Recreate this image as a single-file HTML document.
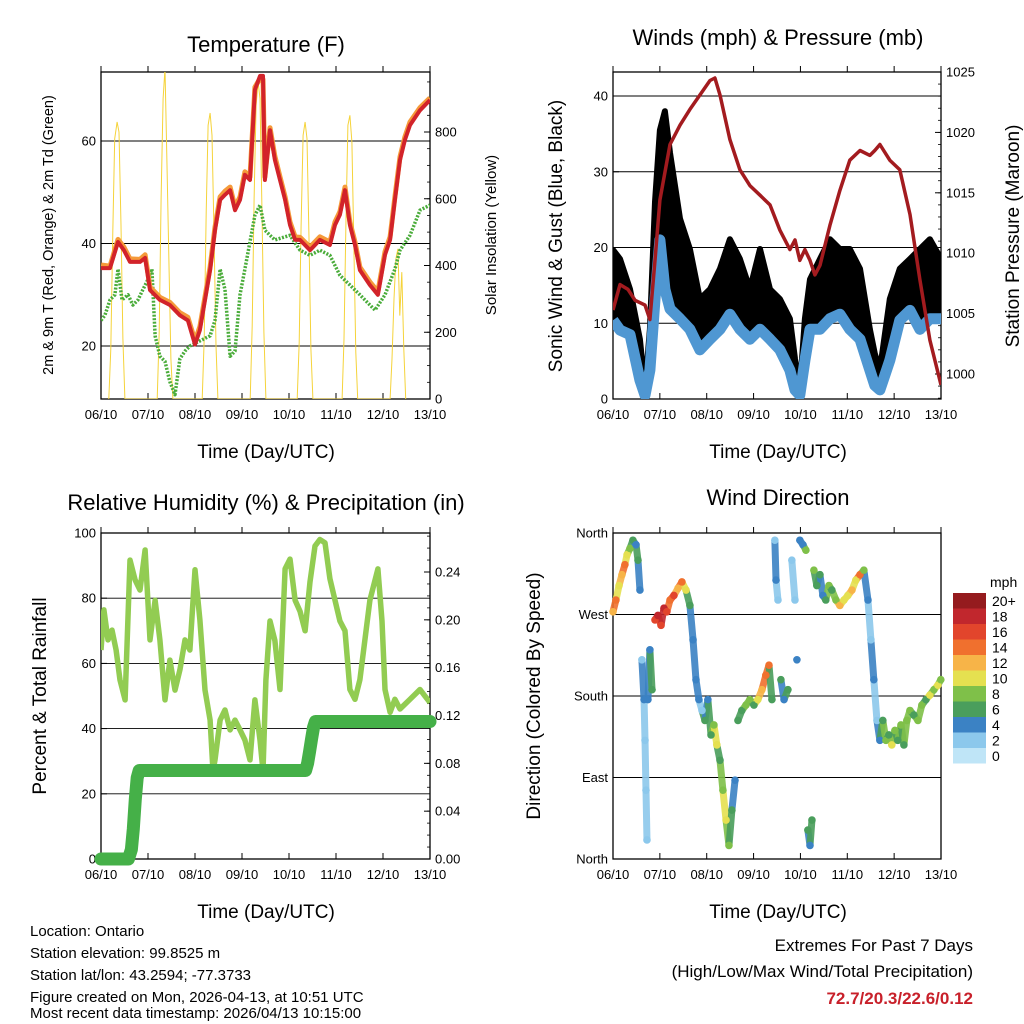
<!DOCTYPE html>
<html><head><meta charset="utf-8">
<style>
html,body{margin:0;padding:0;background:#fff;}
svg{display:block;font-family:"Liberation Sans",sans-serif;}
</style></head>
<body>
<svg id="c" width="1024" height="1024" viewBox="0 0 1024 1024">
<text x="266" y="52" font-size="22" text-anchor="middle">Temperature (F)</text>
<text x="778" y="45" font-size="22" text-anchor="middle">Winds (mph) &amp; Pressure (mb)</text>
<text x="266" y="510" font-size="22" text-anchor="middle">Relative Humidity (%) &amp; Precipitation (in)</text>
<text x="778" y="505" font-size="22" text-anchor="middle">Wind Direction</text>
<text x="266" y="458" font-size="19" text-anchor="middle">Time (Day/UTC)</text>
<text x="778" y="458" font-size="19" text-anchor="middle">Time (Day/UTC)</text>
<text x="266" y="918" font-size="19" text-anchor="middle">Time (Day/UTC)</text>
<text x="778" y="918" font-size="19" text-anchor="middle">Time (Day/UTC)</text>
<text transform="translate(53,235) rotate(-90)" font-size="14.5" text-anchor="middle">2m &amp; 9m T (Red, Orange) &amp; 2m Td (Green)</text>
<text transform="translate(496,235) rotate(-90)" font-size="15" text-anchor="middle">Solar Insolation (Yellow)</text>
<text transform="translate(562,236) rotate(-90)" font-size="19" text-anchor="middle">Sonic Wind &amp; Gust (Blue, Black)</text>
<text transform="translate(1019,236) rotate(-90)" font-size="19" text-anchor="middle">Station Pressure (Maroon)</text>
<text transform="translate(46,696) rotate(-90)" font-size="19" text-anchor="middle">Percent &amp; Total Rainfall</text>
<text transform="translate(540,696) rotate(-90)" font-size="19" text-anchor="middle">Direction (Colored By Speed)</text>
<g font-size="15">
<text x="30" y="936">Location: Ontario</text>
<text x="30" y="958">Station elevation: 99.8525 m</text>
<text x="30" y="980">Station lat/lon: 43.2594; -77.3733</text>
<text x="30" y="1002">Figure created on Mon, 2026-04-13, at 10:51 UTC</text>
<text x="30" y="1024" dy="-6">Most recent data timestamp: 2026/04/13 10:15:00</text>
</g>
<g font-size="17" text-anchor="end">
<text x="973" y="951">Extremes For Past 7 Days</text>
<text x="973" y="977">(High/Low/Max Wind/Total Precipitation)</text>
<text x="973" y="1004" fill="#c8202a" font-weight="bold">72.7/20.3/22.6/0.12</text>
</g>
</svg>
<script>
// ---------- data ----------
const dayLabels = ["06/10","07/10","08/10","09/10","10/10","11/10","12/10","13/10"];
const tempHours = [0,4.6,8.7,11.7,14.8,19.9,22.5,25,30.1,35.2,40.3,44.4,48,50.5,53.1,55.7,58.2,60.8,63.3,65.9,68.4,71,73.5,76.1,78.6,81.2,82.7,83.7,86.3,88.8,91.4,94,96.5,99.1,101.6,106.7,111.8,116.9,119.5,122,124.6,127.1,129.7,132.2,137.3,141.4,145,147.6,150.1,152.7,155.2,157.8,162.9,168];
const temp2m = [35.2,35.2,40.3,38.7,36.4,36.4,37.2,30.9,29,28,26,25,20.3,23.1,29,34.8,42.6,48.5,49.5,50.4,46.5,48.5,53.4,52.4,70,72.7,72.7,52.4,62.1,56.3,52.4,48.5,43.6,40.7,40.7,38.7,40.7,39.7,43.6,45.6,50.4,43.6,39.7,34.8,31.9,30,37.8,40.7,48.5,56.3,60.2,63.1,66,68];
const temp9m = [35.8,35.6,40.8,39.3,37,36.9,37.8,31.5,29.5,28.5,26.5,25.6,21,23.8,29.6,35.4,43.2,49.1,50.2,51,47.1,49.1,54,53,70.5,72.2,72,53,62.6,57,53,49.1,44.2,41.3,41.2,39.3,41.3,40.3,44.2,46.2,51,44.2,40.3,35.4,32.5,30.6,38.4,41.3,49.1,56.9,60.8,63.7,66.5,68.4];
const dewHours = [0,2,4.6,7.1,8.7,10.7,13.8,16.3,18.9,21.4,24,26,27.6,30.1,32.7,35.2,37.8,40.3,42.9,45.4,50.5,55.7,58.2,60.8,63.3,65.9,68.4,71,73.5,78.6,81.2,83.7,86.3,88.8,96.5,101.6,106.7,111.8,116.9,122,127.1,132.2,137.3,139.9,145,150.1,152.7,157.8,162.9,168];
const dewPoint = [25,26,29,30,35,29,30,28,29,31,33,35,22,18,17,13,10.5,17.5,19,20,21,22,25,35,31,18,19,30,35,45.5,47.5,42.6,41.6,40.7,41.6,38.7,37.7,38.7,37.7,33.8,31.9,30,28,27,30,35,38.7,41.6,46.5,47.5];
const solarHours = [4,5,6,7,8.2,9.2,10.2,11.2,12.2, 28.7,29.7,30.7,31.7,32.7,33.7,34.7,35.7,36.7, 51.7,52.7,53.7,54.7,55.7,56.7,57.7,58.7,59.7, 76.2,77.2,78.2,79.2,80.2,81.2,82.2,83.2,84.2, 100.2,101.2,102.2,103.2,104.2,105.2,106.2,107.2,108.2, 123.1,124.1,125.1,126.1,127.1,128.1,129.1,130.1,131.1, 147.6,148.6,149.6,150.6,151.6,152.6,153.6,154.6,155.6];
const solarVals = [0,150,500,780,830,800,520,180,0, 0,200,600,900,990,700,400,120,0, 0,180,560,820,857,790,500,160,0, 0,220,600,880,950,900,560,200,0, 0,170,520,790,830,780,480,150,0, 0,180,540,820,850,770,470,140,0, 0,120,300,420,450,250,380,150,0];
const windHours = [0,3.6,8.7,13.8,16.4,18.9,21.5,24,26.6,29.2,34.3,39.4,44.5,49.7,54.8,59.9,65,70.1,75.3,80.4,85.5,90.6,93.2,95.7,98.3,100.9,106,111.1,116.2,121.3,126.5,131.6,134.1,136.7,141.8,146.9,152.1,157.2,162.3,168];
const windSpeed = [10.4,9.1,8.5,2.5,0.5,3.8,13.2,21,14.5,11.9,10.6,9.2,6.5,7.9,9.2,11.2,9.2,7.9,9.2,7.9,6.5,3.8,1.2,0.5,5.1,9.2,9.2,10.6,11.2,9.2,7.9,3.8,1.8,1.2,5.1,10.4,11.7,9.2,10.6,10.6];
const windGust = [19.7,18.5,14.5,7.9,1.2,9.2,26,35.5,38,32.5,23.8,19.8,13.2,14.5,17.2,21.1,18.5,14.5,19.8,14.5,13.2,10.6,5.3,1.2,10.6,15.8,18.5,21.1,19.8,19.8,17.2,9.2,6,3.8,13.2,17.2,18.5,19.8,21.1,18.5];
const presHours = [0,3.6,7.7,11.3,16.4,18.9,21.5,24,29.2,34.3,39.4,44.5,49.7,52.2,54.8,59.9,65,70.1,75.3,80.4,85.5,90.6,93.2,95.7,98.3,100.9,103.4,106,111.1,116.2,121.3,126.5,131.6,134.1,136.7,141.8,146.9,152.1,157.2,162.3,168];
const pressure = [1005.3,1007.4,1007,1006.1,1005.7,1004.5,1009.4,1014.4,1019,1020.6,1021.9,1023.1,1024.3,1024.5,1023.1,1019.4,1016.9,1015.6,1014.8,1014,1011.9,1010.3,1011.1,1009.4,1010.3,1009.4,1008.2,1009,1012.3,1015.2,1017.7,1018.5,1018.1,1018.5,1019,1017.7,1016.9,1013.2,1007.8,1002.8,999.1];
const rhHours = [0,1.5,3.6,5.6,7.7,9.7,12.3,14.8,17.4,19.9,22.5,25,27.6,30.1,32.7,35.2,37.8,40.3,42.9,45.4,48,50.5,53.1,55.7,57.2,58.2,60.8,63.3,65.9,68.4,71,73.5,76.1,78.6,81.2,82.7,84.2,86.3,88.8,91.4,94,96.5,99.1,101.6,104.2,106.7,109.3,111.8,114.4,116.9,122,124.6,127.1,129.7,132.2,137.3,141.4,143.5,145,147.6,150.1,152.7,157.8,162.9,165.4,168];
const rhVals = [64.1,76.4,67.2,70.2,64.1,54.9,48.8,91.7,85.6,82.5,94.8,67.2,79.4,67.2,48.8,61,51.8,58,67.2,64.1,88.7,73.3,51.8,42.6,27,30.4,42.6,45.7,39.6,42.6,39.6,36.5,30.4,48.8,36.5,27,54.9,73,67,52,89,92,79.4,76,70,85,96,98,97,86,73,70,52,49,55,79.4,89,73,52,45,49,46,49,52,50,48];
const rainHours = [0,14,15.5,16.5,17.5,18.5,19.5,104.5,105.5,106.5,107.5,108.5,109.5,168];
const rainVals = [0,0,0.008,0.025,0.05,0.068,0.074,0.074,0.08,0.09,0.1,0.11,0.115,0.115];
const dirHours = [0,1.5,3.1,4.6,6.1,7.2,8.7,10.2,11.8,12.8,13.8,14.8,15.9,16.4,16.9,17.4,17.9,18.9,20,21.5,23,24.6,26.1,27.6,29.2,31.2,33.3,35.3,37.4,39.4,41,42.5,44,45.6,47.1,48.6,50.2,51.7,53.2,54.8,56.3,57.9,59.4,60.9,62.5,64,66,68.1,70.1,72.2,74.2,76.3,78.3,79.9,81.4,82.9,83.5,84.5,86,87.6,89.6,91.6,93.2,94.2,95.7,97.3,98.8,99.8,100.9,101.9,102.9,104.4,106,107.5,109,110.6,112.1,114.2,116.2,118.3,120.3,122.4,124.4,126.5,128.5,130.6,132.1,133.6,135.2,136.7,138.2,139.8,141.3,142.8,144.4,145.9,147.5,149,150.5,152.1,154.1,156.2,158.2,160.3,162.3,164.4,166.4,167.9];
const dirDeg = [273,286,302,314,325,336,343,352,347,330,297,220,176,131,76,21,176,231,187,264,269,258,277,273,286,291,299,306,297,280,242,198,176,164,153,176,137,148,126,109,76,43,15,54,87,153,164,170,176,170,176,187,203,214,176,352,308,286,198,176,187,330,286,220,352,347,341,32,15,43,319,302,314,291,286,302,297,286,280,286,291,297,308,314,319,286,242,198,153,131,153,131,137,126,142,131,148,126,153,164,159,153,170,176,181,187,192,198];
const dirSpeed = [12,14,10,12,13,10,8,6,4,5,3,2,3,2,2,1,4,4,6,16,18,16,17,15,14,16,12,14,10,6,4,4,3,2,5,3,6,8,10,6,7,9,8,6,4,5,6,7,8,6,10,12,13,14,5,2,3,2,6,4,5,2,2,3,3,4,7,6,4,5,8,5,6,4,5,7,6,8,11,9,10,12,9,13,8,4,2,3,2,4,6,8,6,9,7,6,8,5,8,7,6,7,8,6,9,8,10,8];
const speedLabels = ["20+","18","16","14","12","10","8","6","4","2","0"];
const speedColors = ["#951b1e","#c1272d","#e2452c","#f0702e","#f7b448","#e5e050","#7fc049","#4a9e5c","#3b82c4","#8cc8ec","#bfe5f7"];

// ---------- helpers ----------
const NS = "http://www.w3.org/2000/svg";
const svg = document.getElementById("c");
function mk(tag, attrs, parent){
  const e = document.createElementNS(NS, tag);
  for (const k in attrs) e.setAttribute(k, attrs[k]);
  (parent||svg).appendChild(e);
  return e;
}
function linear(d0,d1,r0,r1){ return v => r0 + (v-d0)/(d1-d0)*(r1-r0); }
function pathD(xs, ys, fx, fy){ return xs.map((h,i)=>(i?"L":"M")+fx(h).toFixed(1)+","+fy(ys[i]).toFixed(1)).join(""); }

function frame(name, L, T, R, B, xScale){
  const g = mk("g", {});
  
  
  const fr = mk("rect", {x:L, y:T, width:R-L, height:B-T, fill:"none", stroke:"#000", "stroke-width":1.3}, g);
  
  
  dayLabels.forEach((lab,i)=>{
    const x = xScale(i*24);
    mk("line",{x1:x,y1:B,x2:x,y2:B-6,stroke:"#000"},g);
    mk("line",{x1:x,y1:T,x2:x,y2:T-6,stroke:"#000"},g);
    const t = mk("text",{x:x,y:B+20,"font-size":13,"text-anchor":"middle"},g);
    t.textContent = lab;
    
    
  });
  return g;
}
function yAxis(g, vals, labels, yS, x, side, grid, L, R){
  vals.forEach((v,i)=>{
    const y = yS(v);
    if (grid && grid.indexOf(v) >= 0) {
      const gl = mk("line",{x1:L,y1:y,x2:R,y2:y,stroke:"#000","stroke-width":0.9},g);
      
      
    }
    mk("line",{x1:x,y1:y,x2:x+(side<0?6:-6),y2:y,stroke:"#000"},g);
    const t = mk("text",{x:x+(side<0?-5:5),y:y+4.5,"font-size":13,"text-anchor":side<0?"end":"start"},g);
    t.textContent = labels[i];
    
    
  });
}
function minor(g, from, to, step, yS, x, side){
  for (let v=from; v<=to+1e-9; v+=step){
    const y=yS(v);
    mk("line",{x1:x,y1:y,x2:x+(side<0?3:-3),y2:y,stroke:"#000","stroke-width":0.8},g);
  }
}

// ---------- Panel 1: Temperature ----------
(function(){
  const L=101,R=430,T=72,B=399;
  const x = linear(0,168,L,R);
  const y = linear(20,60,346,141);
  const ys = linear(0,800,399,132);
  const g = frame("temperature",L,T,R,B,x);
  yAxis(g,[20,40,60],["20","40","60"],y,L,-1,[20,40,60],L,R);
  yAxis(g,[0,200,400,600,800],["0","200","400","600","800"],ys,R,1,null,L,R);
  minor(g,0,950,50,ys,R,1);
  const clip = mk("clipPath",{id:"cp1"}); mk("rect",{x:L,y:T,width:R-L,height:B-T},clip);
  const sol = mk("path",{d:pathD(solarHours,solarVals,x,ys),fill:"none",stroke:"#f5d33a","stroke-width":1,"clip-path":"url(#cp1)"});
  
  
  const dew = mk("path",{d:pathD(dewHours,dewPoint,x,y),fill:"none",stroke:"#4aac3a","stroke-width":3.5,"stroke-dasharray":"2 1.5","stroke-linejoin":"round","clip-path":"url(#cp1)"});
  
  
  const t9 = mk("path",{d:pathD(tempHours,temp9m,x,y),fill:"none",stroke:"#f59a3a","stroke-width":5,"stroke-linejoin":"round","clip-path":"url(#cp1)"});
  
  
  const t2 = mk("path",{d:pathD(tempHours,temp2m,x,y),fill:"none",stroke:"#d2232a","stroke-width":4,"stroke-linejoin":"round","clip-path":"url(#cp1)"});
  
  
})();

// ---------- Panel 2: Winds ----------
(function(){
  const L=613,R=941,T=72,B=399;
  const x = linear(0,168,L,R);
  const y = linear(0,40,399,96);
  const yp = linear(1000,1025,374,72);
  const g = frame("winds",L,T,R,B,x);
  yAxis(g,[0,10,20,30,40],["0","10","20","30","40"],y,L,-1,[10,20,30,40],L,R);
  yAxis(g,[1000,1005,1010,1015,1020,1025],["1000","1005","1010","1015","1020","1025"],yp,R,1,null,L,R);
  minor(g,998,1025,1,yp,R,1);
  const clip = mk("clipPath",{id:"cp2"}); mk("rect",{x:L,y:T,width:R-L,height:B-T},clip);
  let d = pathD(windHours,windGust,x,y);
  for (let i=windHours.length-1;i>=0;i--) d += "L"+x(windHours[i]).toFixed(1)+","+y(windSpeed[i]).toFixed(1);
  const band = mk("path",{d:d+"Z",fill:"#000","clip-path":"url(#cp2)"});
  
  
  const gust = mk("path",{d:pathD(windHours,windGust,x,y),fill:"none",stroke:"#000","stroke-width":6,"stroke-linejoin":"round","stroke-linecap":"round","clip-path":"url(#cp2)"});
  
  
  const ws = mk("path",{d:pathD(windHours,windSpeed,x,y),fill:"none",stroke:"#4f97d2","stroke-width":11,"stroke-linejoin":"round","clip-path":"url(#cp2)"});
  
  
  const pr = mk("path",{d:pathD(presHours,pressure,x,yp),fill:"none",stroke:"#a31b1f","stroke-width":3.5,"stroke-linejoin":"round","clip-path":"url(#cp2)"});
  
  
})();

// ---------- Panel 3: Humidity ----------
(function(){
  const L=101,R=430,T=533,B=859;
  const x = linear(0,168,L,R);
  const y = linear(0,100,859,533);
  const yr = linear(0,0.24,859,572);
  const g = frame("humidity",L,T,R,B,x);
  yAxis(g,[0,20,40,60,80,100],["0","20","40","60","80","100"],y,L,-1,[20,40,60,80],L,R);
  yAxis(g,[0,0.04,0.08,0.12,0.16,0.2,0.24],["0.00","0.04","0.08","0.12","0.16","0.20","0.24"],yr,R,1,null,L,R);
  minor(g,0,0.27,0.01,yr,R,1);
  const clip = mk("clipPath",{id:"cp3"}); mk("rect",{x:L,y:T,width:R-L,height:B-T},clip);
  const rh = mk("path",{d:pathD(rhHours,rhVals,x,y),fill:"none",stroke:"#92cc52","stroke-width":5.5,"stroke-linejoin":"round","clip-path":"url(#cp3)"});
  
  
  const rain = mk("path",{d:pathD(rainHours,rainVals,x,yr),fill:"none",stroke:"#45b048","stroke-width":13,"stroke-linejoin":"round","stroke-linecap":"round"});
  
  
})();

// ---------- Panel 4: Wind Direction ----------
(function(){
  const L=613,R=941,T=533,B=859;
  const x = linear(0,168,L,R);
  const y = linear(0,360,859,533);
  const g = frame("direction",L,T,R,B,x);
  yAxis(g,[0,90,180,270,360],["North","East","South","West","North"],y,L,-1,[90,180,270],L,R);
  function col(s){ let idx = Math.round(s/2); if (idx>10) idx=10; return speedColors[10-idx]; }
  for (let i=1;i<dirHours.length;i++){
    if (Math.abs(dirDeg[i]-dirDeg[i-1]) < 60) {
      const s = mk("line",{x1:x(dirHours[i-1]),y1:y(dirDeg[i-1]),x2:x(dirHours[i]),y2:y(dirDeg[i]),stroke:col(dirSpeed[i]),"stroke-width":7,"stroke-linecap":"round","opacity":0.9});
      
      
    }
  }
  dirHours.forEach((h,i)=>{
    const c = mk("circle",{cx:x(h),cy:y(dirDeg[i]),r:3.8,fill:col(dirSpeed[i])});
    
    
  });
  const lg = mk("g",{});
  
  
  const lt = mk("text",{x:990,y:587,"font-size":14,"text-anchor":"start"},lg);
  lt.textContent = "mph";
  speedLabels.forEach((lab,i)=>{
    const yy = 593 + i*15.5;
    const r = mk("rect",{x:953,y:yy,width:33,height:15.5,fill:speedColors[i]},lg);
    
    
    const t = mk("text",{x:992,y:yy+13,"font-size":14},lg);
    t.textContent = lab;
    
    
  });
})();
</script>
</body></html>
